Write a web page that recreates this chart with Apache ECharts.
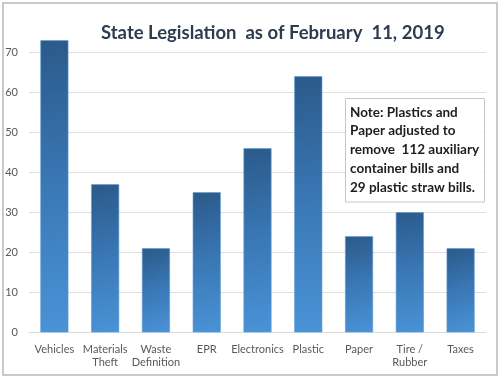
<!DOCTYPE html>
<html>
<head>
<meta charset="utf-8">
<script src="https://cdn.jsdelivr.net/npm/echarts@6/dist/echarts.min.js"></script>
<style>
html,body{margin:0;padding:0;background:#fff;}
#chart{width:500px;height:378px;}
</style>
</head>
<body>
<div id="chart"></div>
<script>
const categories = ['Vehicles', 'Materials\nTheft', 'Waste\nDefinition', 'EPR', 'Electronics', 'Plastic', 'Paper', 'Tire /\nRubber', 'Taxes'];
const values = [73, 37, 21, 35, 46, 64, 24, 30, 21];
const yTicks = [0, 10, 20, 30, 40, 50, 60, 70];
const titleText = 'State Legislation  as of February  11, 2019';
const noteLines = ['Note: Plastics and', 'Paper adjusted to', 'remove  112 auxiliary', 'container bills and', '29 plastic straw bills.'];

const chart = echarts.init(document.getElementById('chart'), null, {renderer: 'canvas'});
const barGradient = new echarts.graphic.LinearGradient(0, 0, 1, 1, [
  {offset: 0, color: '#2b5a8a'},
  {offset: 0.5, color: '#3a78b6'},
  {offset: 1, color: '#4a93d6'}
]);
chart.setOption({
  backgroundColor: '#ffffff',
  animation: false,
  title: {
    text: titleText,
    left: 96,
    top: 19,
    textStyle: {fontFamily: 'Lato', fontWeight: 'bold', fontSize: 18.5, color: '#2e3c50'}
  },
  grid: {left: 29, right: 14, top: 52.3, bottom: 45.7, containLabel: false},
  xAxis: {
    type: 'category',
    data: categories,
    axisTick: {show: false},
    axisLine: {lineStyle: {color: '#d9d9d9', width: 1}},
    axisLabel: {fontFamily: 'Lato', fontSize: 11, color: '#595959', margin: 10, lineHeight: 13.5, interval: 0}
  },
  yAxis: {
    type: 'value',
    min: yTicks[0],
    max: yTicks[yTicks.length - 1],
    interval: yTicks[1] - yTicks[0],
    axisLine: {show: false},
    axisTick: {show: false},
    splitLine: {lineStyle: {color: '#e0e0e0', width: 1}},
    axisLabel: {fontFamily: 'Lato', fontSize: 11, color: '#595959', margin: 11}
  },
  series: [{
    type: 'bar',
    data: values,
    barWidth: 28,
    clip: false,
    itemStyle: {color: barGradient, borderColor: '#5b9bd5', borderWidth: 0.6}
  }],
  graphic: [
    {
      type: 'rect', silent: true, z: 0,
      shape: {x: 3, y: 3, width: 494, height: 372},
      style: {fill: 'none', stroke: '#c9c9c9', lineWidth: 2}
    },
    {
      type: 'rect', z: 200,
      shape: {x: 345.5, y: 98.5, width: 139, height: 103.5},
      style: {fill: '#ffffff', stroke: '#c6c6c6', lineWidth: 1}
    },
    {
      type: 'text', z: 201,
      x: 350, y: 103,
      style: {
        text: noteLines.join('\n'),
        fontFamily: 'Lato', fontWeight: 'bold', fontSize: 13.5,
        lineHeight: 18.75, fill: '#1e1e1e'
      }
    }
  ]
});
</script>
</body>
</html>
